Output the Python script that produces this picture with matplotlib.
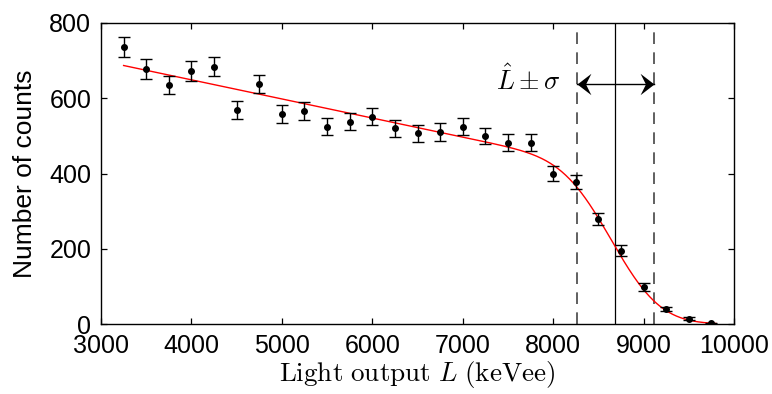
import math
import numpy as np
import matplotlib
matplotlib.use("Agg")
import matplotlib.pyplot as plt
from matplotlib.path import Path

# Measured light-output spectrum (bin centres in keVee) with Poisson errors
light_output = [3250, 3500, 3750, 4000, 4250, 4500, 4750, 5000, 5250, 5500,
                5750, 6000, 6250, 6500, 6750, 7000, 7250, 7500, 7750, 8000,
                8250, 8500, 8750, 9000, 9250, 9500, 9750]
counts = [737, 678, 635, 672, 684, 569, 638, 557, 567, 524,
          538, 551, 520, 507, 510, 524, 500, 482, 482, 400,
          378, 279, 195, 98, 40, 14, 2]
count_err = [27, 26, 25, 26, 26, 24, 25, 24, 24, 23,
             23, 23, 23, 23, 23, 23, 22, 22, 22, 20,
             19, 17, 14, 10, 6, 4, 1.5]

# Fitted edge model: linear continuum times a Gaussian-smeared step
fit_intercept = 851.8
fit_slope = -0.0507
L_hat = 8686.0
sigma = 426.0
fit_range = (3250, 9800)

xticks = [3000, 4000, 5000, 6000, 7000, 8000, 9000, 10000]
yticks = [0, 200, 400, 600, 800]

plt.rcParams["font.family"] = ["Liberation Sans", "DejaVu Sans"]
plt.rcParams["mathtext.fontset"] = "cm"

fig = plt.figure(figsize=(7.72, 3.94), dpi=100)
ax = fig.add_axes([101 / 772, 1 - 324 / 394, (734 - 101) / 772, (324 - 23) / 394])

# Fit curve
xf = np.linspace(fit_range[0], fit_range[1], 600)
step = np.array([0.5 * math.erfc((x - L_hat) / (math.sqrt(2) * sigma)) for x in xf])
yf = (fit_intercept + fit_slope * xf) * step
ax.plot(xf, yf, color="red", lw=1.0, zorder=3)

# Data with error bars
ax.errorbar(light_output, counts, yerr=count_err, fmt="o", color="black",
            ms=4, elinewidth=1.0, capsize=4.5, capthick=1.0, zorder=4)

# Edge position and +/- sigma band
ax.axvline(L_hat, color="black", lw=0.9, zorder=2)
for xv in (L_hat - sigma, L_hat + sigma):
    ax.axvline(xv, color="#444444", lw=1.2, dashes=(7, 5), zorder=2)

# Double-headed arrow spanning the band
arrow_y = 638
ax.plot([L_hat - sigma, L_hat + sigma], [arrow_y, arrow_y], color="black", lw=1.0, zorder=5)
head_right = Path([(0, 0), (-13, 10), (-8, 0), (-13, -10), (0, 0)],
                  [Path.MOVETO, Path.LINETO, Path.LINETO, Path.LINETO, Path.CLOSEPOLY])
head_left = Path([(0, 0), (13, 10), (8, 0), (13, -10), (0, 0)],
                 [Path.MOVETO, Path.LINETO, Path.LINETO, Path.LINETO, Path.CLOSEPOLY])
ax.plot([L_hat + sigma], [arrow_y], marker=head_right, ms=20, color="black",
        mew=0, linestyle="none", zorder=6)
ax.plot([L_hat - sigma], [arrow_y], marker=head_left, ms=20, color="black",
        mew=0, linestyle="none", zorder=6)
ax.text(7370, 648, r"$\hat{L}\pm\sigma$", fontsize=19, ha="left", va="center")

ax.set_xlim(3000, 10000)
ax.set_ylim(0, 800)
ax.set_xticks(xticks)
ax.set_yticks(yticks)
ax.tick_params(direction="in", length=4.5, width=0.9, top=True, right=True,
               labelsize=18)
ax.tick_params(axis="x", pad=7)
ax.tick_params(axis="y", pad=7)
for sp in ax.spines.values():
    sp.set_linewidth(1.0)

ax.set_ylabel("Number of counts", fontsize=19, labelpad=9)
ax.set_xlabel(r"$\mathrm{Light\ output}\ L\ \mathrm{(keVee)}$", fontsize=19.5, labelpad=1)

fig.savefig("out.png", dpi=100)
